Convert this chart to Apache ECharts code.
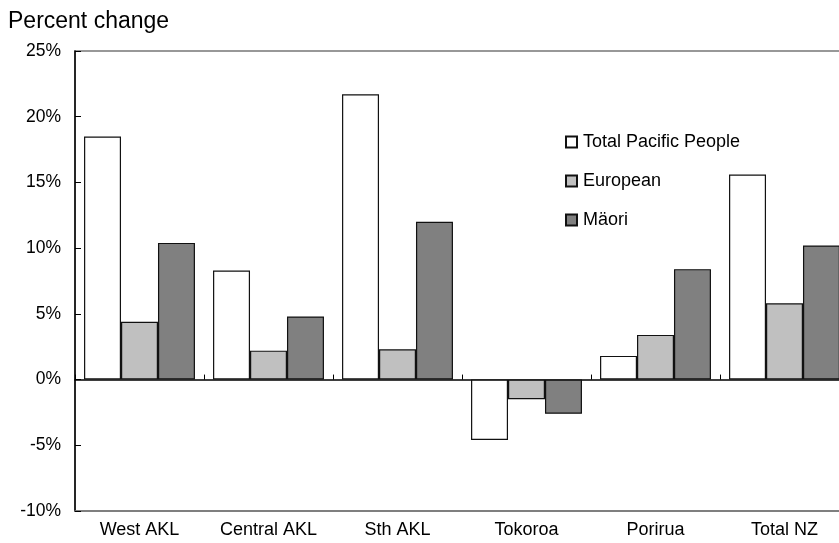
<!DOCTYPE html>
<html>
<head>
<meta charset="utf-8">
<script src="https://cdn.jsdelivr.net/npm/echarts@6/dist/echarts.min.js"></script>
<style>
html,body{margin:0;padding:0;background:#fff;}
#chart{width:839px;height:543px;}
</style>
</head>
<body>
<div id="chart"></div>
<script>
const categories = ['West AKL', 'Central AKL', 'Sth AKL', 'Tokoroa', 'Porirua', 'Total NZ'];
const pacificValues = [18.5, 8.3, 21.7, -4.6, 1.8, 15.6];
const europeanValues = [4.4, 2.2, 2.3, -1.5, 3.4, 5.8];
const maoriValues = [10.4, 4.8, 12.0, -2.6, 8.4, 10.2];
const seriesNames = ['Total Pacific People', 'European', 'Mäori'];
const yTicks = { min: -10, max: 25, interval: 5 };

const FONT = '"Liberation Sans", Arial, sans-serif';
const chart = echarts.init(document.getElementById('chart'), null, { renderer: 'canvas' });

const barStyle = (color) => ({ color: color, borderColor: '#111', borderWidth: 1.2 });

chart.setOption({
  animation: false,
  backgroundColor: '#fff',
  title: {
    text: 'Percent change',
    left: 3, top: 5,
    textStyle: { fontFamily: FONT, fontSize: 23, fontWeight: 'normal', color: '#000' }
  },
  legend: {
    orient: 'vertical',
    left: 565, top: 133, padding: 0,
    itemWidth: 11, itemHeight: 11, itemGap: 21,
    icon: 'rect',
    textStyle: { fontFamily: FONT, fontSize: 18, color: '#000', padding: [0, 0, 0, 1] },
    data: seriesNames
  },
  grid: {
    left: 75, top: 51, width: 774, height: 460,
    outerBoundsMode: 'none', containLabel: false,
    show: true, borderColor: '#777', borderWidth: 1.5, backgroundColor: 'transparent'
  },
  xAxis: [
    {
      type: 'category', data: categories, position: 'bottom',
      axisLine: { onZero: false, lineStyle: { color: '#777', width: 1.5 } },
      axisTick: { show: false },
      axisLabel: { fontFamily: FONT, fontSize: 18, color: '#000', margin: 10, interval: 0 }
    },
    {
      type: 'category', data: categories, position: 'top',
      axisLine: { onZero: true, lineStyle: { color: '#000', width: 1.5 } },
      axisTick: { show: true, inside: false, length: 5, lineStyle: { color: '#000', width: 1 } },
      axisLabel: { show: false }
    }
  ],
  yAxis: {
    type: 'value', min: yTicks.min, max: yTicks.max, interval: yTicks.interval,
    axisLine: { show: true, lineStyle: { color: '#000', width: 1.5 } },
    axisTick: { show: true, inside: true, length: 6, lineStyle: { color: '#000', width: 1 } },
    splitLine: { show: false },
    axisLabel: { formatter: '{value}%', fontFamily: FONT, fontSize: 17.5, color: '#000', margin: 14 }
  },
  series: [
    { name: seriesNames[0], type: 'bar', xAxisIndex: 0, data: pacificValues, itemStyle: barStyle('#ffffff'), barGap: '0%', barCategoryGap: '14%' },
    { name: seriesNames[1], type: 'bar', xAxisIndex: 0, data: europeanValues, itemStyle: barStyle('#c0c0c0'), barGap: '0%', barCategoryGap: '14%' },
    { name: seriesNames[2], type: 'bar', xAxisIndex: 0, data: maoriValues, itemStyle: barStyle('#808080'), barGap: '0%', barCategoryGap: '14%' }
  ]
});
</script>
</body>
</html>
